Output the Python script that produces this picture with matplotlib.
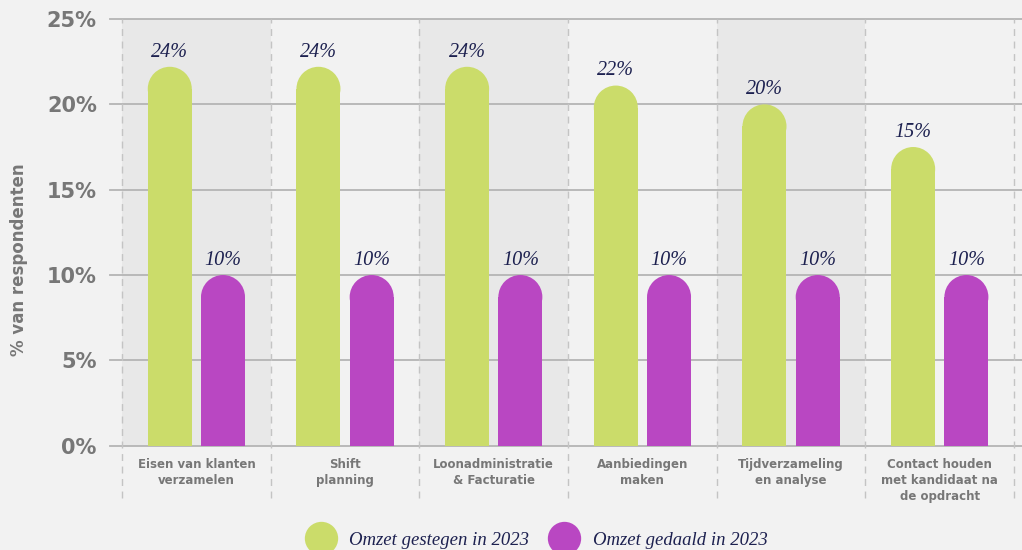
import matplotlib
matplotlib.use("Agg")
import matplotlib.pyplot as plt
from matplotlib.patches import Ellipse
from matplotlib.lines import Line2D
import numpy as np

# data (bar tops in % of the axis, labels as printed)
categories = ["Eisen van klanten\nverzamelen", "Shift\nplanning",
              "Loonadministratie\n& Facturatie", "Aanbiedingen\nmaken",
              "Tijdverzameling\nen analyse",
              "Contact houden\nmet kandidaat na\nde opdracht"]
gestegen = [22.2, 22.2, 22.2, 21.1, 20.0, 17.5]
gedaald = [10.0, 10.0, 10.0, 10.0, 10.0, 10.0]
gestegenLabels = ["24%", "24%", "24%", "22%", "20%", "15%"]
gedaaldLabels = ["10%", "10%", "10%", "10%", "10%", "10%"]
seriesNames = ["Omzet gestegen in 2023", "Omzet gedaald in 2023"]

green = "#cbdc6a"
magenta = "#b947c2"
navy = "#1d2150"
grey = "#777777"
bg = "#f2f2f2"

W, H = 1022, 550
fig = plt.figure(figsize=(W / 100, H / 100), dpi=100, facecolor=bg)
axL, axR, axT, axB = 110, 1022, 19, 445.7
ax = fig.add_axes([axL / W, (H - axB) / H, (axR - axL) / W, (axB - axT) / H])
ax.set_facecolor(bg)

n = len(categories)
ind = np.arange(n)
xmin, xmax = -0.581, 5.553
ax.set_xlim(xmin, xmax)
ax.set_ylim(0, 25)

# alternating shaded columns and dashed separators
for i in range(0, n, 2):
    ax.axvspan(i - 0.5, i + 0.5, color="#e8e8e8", lw=0, zorder=0)
for i in range(n + 1):
    ax.axvline(i - 0.5, ymin=-0.122, ymax=1, color="#c4c4c4", lw=1,
               ls=(0, (5, 4)), clip_on=False, zorder=1)

ax.set_yticks(np.arange(0, 26, 5))
ax.set_yticklabels([f"{v}%" for v in range(0, 26, 5)])
ax.yaxis.grid(True, color="#b4b4b4", lw=1.3)
for line in ax.get_ygridlines():
    line.set_clip_on(False)
ax.set_axisbelow(True)
for s in ax.spines.values():
    s.set_visible(False)

barWidth = 0.296
offset = 0.179
pxPerX = (axR - axL) / (xmax - xmin)
pxPerY = (axB - axT) / 25
rY = (barWidth * pxPerX / 2) / pxPerY

def roundedBars(xs, values, labels, color):
    xs = np.asarray(xs)
    vals = np.asarray(values)
    ax.bar(xs, vals - rY, barWidth, color=color, lw=0, zorder=3)
    for x, v, lab in zip(xs, vals, labels):
        ax.add_patch(Ellipse((x, v - rY), barWidth, 2 * rY, color=color,
                             lw=0, zorder=3))
        ax.text(x, v + 0.3, lab, ha="center", va="bottom", color=navy,
                fontsize=14.5, fontstyle="italic", family="Liberation Serif")

roundedBars(ind - offset, gestegen, gestegenLabels, green)
roundedBars(ind + offset, gedaald, gedaaldLabels, magenta)

ax.set_xticks(ind)
ax.set_xticklabels(categories, fontsize=8.5, fontweight="bold", color=grey,
                   linespacing=1.3, family="DejaVu Sans")
ax.tick_params(axis="x", length=0, pad=9)
ax.tick_params(axis="y", length=0, pad=9.5, labelsize=15, labelcolor=grey)
for t in ax.get_yticklabels():
    t.set_fontweight("bold")

fig.text(19 / W, 1 - 260 / H, "% van respondenten", rotation=90, ha="center",
         va="center", fontsize=12, fontweight="bold", color=grey)

handles = [Line2D([], [], ls="none", marker="o", markersize=24,
                  markerfacecolor=c, markeredgewidth=0) for c in (green, magenta)]
fig.legend(handles, seriesNames, loc="center left",
           bbox_to_anchor=(304 / W, 10 / H), ncol=2, frameon=False,
           borderpad=0, borderaxespad=0, handlelength=1.76,
           handletextpad=0.64, columnspacing=1.0,
           prop={"family": "Liberation Serif", "style": "italic", "size": 13.5},
           labelcolor=navy)

fig.savefig("out.png", dpi=100, facecolor=bg)
